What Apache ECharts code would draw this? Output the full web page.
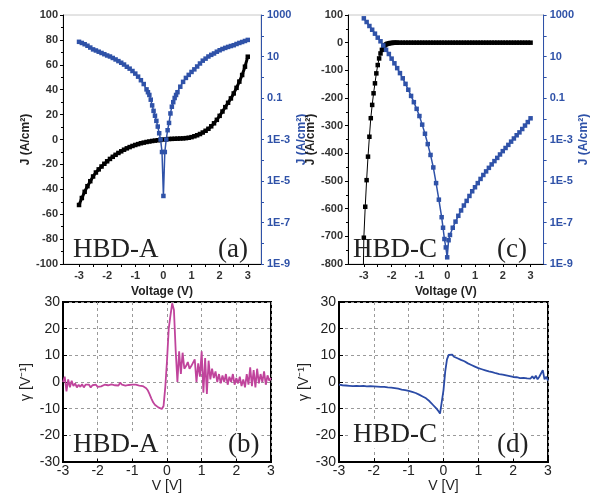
<!DOCTYPE html>
<html><head><meta charset="utf-8">
<script src="https://cdn.jsdelivr.net/npm/echarts@6/dist/echarts.min.js"></script>
<style>html,body{margin:0;padding:0;background:#fff}#c{width:591px;height:494px}</style>
</head><body><div id="c"></div><script>
// ---------- Panel (a): HBD-A J-V ----------
const voltA = [-3.0,-2.9,-2.8,-2.7,-2.6,-2.5,-2.4,-2.3,-2.2,-2.1,-2.0,-1.9,-1.8,-1.7,-1.6,-1.5,-1.4,-1.3,-1.2,-1.1,-1.0,-0.9,-0.8,-0.7,-0.6,-0.5,-0.4,-0.3,-0.2,-0.1,0.0,0.1,0.2,0.3,0.4,0.5,0.6,0.7,0.8,0.9,1.0,1.1,1.2,1.3,1.4,1.5,1.6,1.7,1.8,1.9,2.0,2.1,2.2,2.3,2.4,2.5,2.6,2.7,2.8,2.9,3.0];
const jLinA = [-52.6,-47,-42,-37.5,-33.5,-29.7,-26.5,-24,-21.7,-19.5,-17.5,-15.6,-13.9,-12.3,-10.8,-9.5,-8.2,-7.1,-6.1,-5.2,-4.4,-3.7,-3.0,-2.5,-2.0,-1.6,-1.2,-0.9,-0.6,-0.3,0,0.2,0.4,0.5,0.6,0.7,0.8,0.9,1.1,1.4,1.9,2.6,3.4,4.4,5.6,7.0,8.6,10.6,13.0,15.8,19,22.5,26,29.5,33,37,41.5,46.5,51.8,58.5,66.5];
const voltLogA = [-3.0,-2.9,-2.8,-2.7,-2.6,-2.5,-2.4,-2.3,-2.2,-2.1,-2.0,-1.9,-1.8,-1.7,-1.6,-1.5,-1.4,-1.3,-1.2,-1.1,-1.0,-0.9,-0.8,-0.7,-0.6,
  -0.55,-0.5,-0.45,-0.4,-0.35,-0.3,-0.25,-0.2,-0.15,-0.1,-0.05,0,0.05,0.1,0.15,0.2,0.25,0.3,0.35,0.4,0.45,
  0.5,0.6,0.7,0.8,0.9,1.0,1.1,1.2,1.3,1.4,1.5,1.6,1.7,1.8,1.9,2.0,2.1,2.2,2.3,2.4,2.5,2.6,2.7,2.8,2.9,3.0];
const jLogA = [51,45,39,33,27,22,19.5,17,14.8,12.9,11.2,10,8.5,7.2,6.0,5.0,4.1,3.2,2.6,2.0,1.5,1.07,0.72,0.47,0.26,
  0.19,0.14,0.083,0.044,0.024,0.014,0.0079,0.0042,0.002,0.001,2.5e-4,1.9e-6,2.5e-4,1e-3,2.8e-3,6.3e-3,0.018,0.038,0.063,0.1,0.14,
  0.19,0.35,0.6,0.93,1.3,1.8,2.4,3.3,4.6,6.3,7.9,10,12,14,17,20,23,26,29,32,35,40,45,50,56,63];

// ---------- Panel (c): HBD-C J-V ----------
const voltC = [-3.03,-3.0,-2.95,-2.9,-2.85,-2.8,-2.75,-2.7,-2.65,-2.6,-2.55,-2.5,-2.45,-2.4,-2.35,-2.3,-2.25,-2.2,-2.15,-2.1,-2.05,-2.0,-1.95,-1.9,-1.85,-1.8,
  -1.7,-1.6,-1.5,-1.4,-1.3,-1.2,-1.1,-1.0,-0.9,-0.8,-0.7,-0.6,-0.5,-0.4,-0.3,-0.2,-0.1,0.0,0.1,0.2,0.3,0.4,0.5,0.6,0.7,0.8,0.9,1.0,1.1,1.2,1.3,1.4,1.5,1.6,1.7,1.8,1.9,2.0,2.1,2.2,2.3,2.4,2.5,2.6,2.7,2.8,2.9,3.0];
const jLinC = [-900,-705,-593,-497,-412,-340,-273,-225,-183,-147,-111,-81,-57,-39,-26,-16,-10,-6.5,-4,-2.5,-1.5,-1,-0.5,-0.3,-0.1,0,
  0,0,0,0,0,0,0,0,0,0,0,0,0,0,0,0,0,0,0,0,0,0,0,0,0,0,0,0,0,0,0,0,0,0,0,0,0,0,0,0,0,0,0,0,0,0,0,0];
const voltLogC = [-3.0,-2.9,-2.8,-2.7,-2.6,-2.5,-2.4,-2.3,-2.2,-2.1,-2.0,-1.9,-1.8,-1.7,-1.6,-1.5,-1.4,-1.3,-1.2,-1.1,-1.0,-0.9,-0.8,-0.7,-0.6,-0.5,-0.4,-0.3,-0.2,
  -0.15,-0.1,-0.05,0,0.05,0.1,
  0.2,0.3,0.4,0.5,0.6,0.7,0.8,0.9,1.0,1.1,1.2,1.3,1.4,1.5,1.6,1.7,1.8,1.9,2.0,2.1,2.2,2.3,2.4,2.5,2.6,2.7,2.8,2.9,3.0];
const jLogC = [690,460,295,195,126,81,54,34,21,13.2,7.9,4.7,2.75,1.58,0.89,0.48,0.25,0.126,0.063,0.030,0.0135,5.2e-3,1.9e-3,6.0e-4,1.8e-4,4.5e-5,7.9e-6,1.26e-6,1.8e-7,
  5.6e-8,1.6e-8,6.3e-9,2.1e-9,1.4e-8,2.5e-8,
  5.6e-8,1.1e-7,2.1e-7,3.8e-7,6.6e-7,1.1e-6,1.9e-6,3.2e-6,5.0e-6,7.9e-6,1.26e-5,1.95e-5,2.9e-5,4.3e-5,6.3e-5,9.1e-5,1.3e-4,1.9e-4,2.75e-4,3.9e-4,5.5e-4,7.9e-4,1.12e-3,1.6e-3,2.2e-3,3.2e-3,4.7e-3,6.9e-3,1.05e-2];

// ---------- Panels (b), (d): gamma vs V ----------
const voltG = [-3.00,-2.95,-2.90,-2.85,-2.80,-2.75,-2.70,-2.65,-2.60,-2.55,
  -2.50,-2.45,-2.40,-2.35,-2.30,-2.25,-2.20,-2.15,-2.10,-2.05,
  -2.00,-1.95,-1.90,-1.85,-1.80,-1.75,-1.70,-1.65,-1.60,-1.55,
  -1.50,-1.45,-1.40,-1.35,-1.30,-1.25,-1.20,-1.15,-1.10,-1.05,
  -1.00,-0.95,-0.90,-0.85,-0.80,-0.75,-0.70,-0.65,-0.60,-0.55,
  -0.50,-0.45,-0.40,-0.35,-0.30,-0.25,-0.20,-0.15,-0.10,-0.05,
  0.00,0.05,0.10,0.15,0.20,0.25,0.30,0.35,0.40,0.45,
  0.50,0.55,0.60,0.65,0.70,0.75,0.80,0.85,0.90,0.95,
  1.00,1.05,1.10,1.15,1.20,1.25,1.30,1.35,1.40,1.45,
  1.50,1.55,1.60,1.65,1.70,1.75,1.80,1.85,1.90,1.95,
  2.00,2.05,2.10,2.15,2.20,2.25,2.30,2.35,2.40,2.45,
  2.50,2.55,2.60,2.65,2.70,2.75,2.80,2.85,2.90,2.95,
  3.00];
const gammaB = [0,2,-3.5,1,-2,0.5,-1.5,-0.5,-2,-1,
  -1.8,-0.8,-2,-1,-1.6,-1,-2,-1.2,-1.7,-1,
  -1.8,-1.2,-1.6,-1.9,-1,-1.7,-1.2,-1.5,-0.9,-1.4,
  -1.2,-0.6,-1.3,-0.2,-1,-0.8,-1.3,-0.8,-1.1,-0.7,
  -1,-0.8,-1,-1.1,-1.3,-1.2,-1.5,-1.8,-2.3,-3.2,
  -4.6,-6.2,-7.6,-8.5,-9.1,-9.5,-9.8,-10.1,-9,-2,
  8,20,25,29.5,27,12,0,11.5,3,11,
  5,6,7.5,5,6,5.5,8.5,0,7,2,
  11.5,-4,9,-4.5,8,1,5,1.5,4,0,
  3,-0.5,2.5,0,3,-1,2,0,3,-1,
  1.5,-0.5,2,-1.5,1,-2,3,-1,5.5,-1.5,
  4.5,-2,5,-0.5,3,0,4,-1,2.5,0.5,
  1.5];
const gammaD = [-1.0,-1.4,-1.2,-1.6,-1.3,-1.8,-1.4,-1.7,-1.5,-2.0,
  -1.4,-1.8,-1.5,-1.9,-1.4,-1.8,-1.6,-2.0,-1.5,-1.9,
  -1.6,-1.9,-1.7,-2.1,-1.8,-2.0,-1.8,-2.3,-2.0,-2.3,
  -2.1,-2.5,-2.3,-2.7,-2.5,-2.9,-2.8,-3.1,-3.0,-3.4,
  -3.3,-3.6,-3.7,-4.0,-4.1,-4.5,-4.7,-5.1,-5.4,-5.8,
  -6.1,-6.7,-7.2,-7.9,-8.6,-9.3,-10.0,-10.8,-11.8,-11.5,
  -3,4,8.5,10.2,9.6,10.3,9.5,9.8,8.9,9.2,
  8.3,8.6,7.8,7.6,7.0,7.2,6.4,6.6,5.8,6.0,
  5.2,5.5,4.8,5.0,4.4,4.6,4.0,4.3,3.7,3.9,
  3.3,3.6,3.0,3.3,2.8,3.0,2.5,2.8,2.2,2.5,
  1.9,2.3,1.8,2.1,1.5,2.0,1.6,2.2,1.4,2.0,
  1.3,2.2,1.2,2.4,1.0,2.0,1.5,4.5,1.0,2.0,
  0.5];

// ---------- tick labels ----------
const xTicksTop = [-3,-2,-1,0,1,2,3];
const logTicks = [1e-9,1e-8,1e-7,1e-6,1e-5,1e-4,1e-3,1e-2,1e-1,1,10,100,1000];
const logLabelMap = {'-9':'1E-9','-7':'1E-7','-5':'1E-5','-3':'1E-3','-1':'0.1','1':'10','3':'1000'};

const BLUE = '#2f52a8';
const zip = (xs, ys) => xs.map((x, i) => [x, ys[i]]);
const FONT = '"Liberation Sans", Arial, sans-serif';

function topX(grid, nameGap) {
  return {
    type: 'value', gridIndex: grid, min: -3.57, max: 3.47,
    name: 'Voltage (V)', nameLocation: 'middle', nameGap: nameGap,
    nameTextStyle: {fontFamily: FONT, fontWeight: 'bold', fontSize: 12, color: '#222'},
    axisLine: {onZero: false, lineStyle: {color: '#000', width: 1}},
    axisTick: {customValues: [-3,-2.5,-2,-1.5,-1,-0.5,0,0.5,1,1.5,2,2.5,3], length: 3, lineStyle: {color: '#000'}},
    axisLabel: {customValues: xTicksTop, fontFamily: FONT, fontWeight: 'bold', fontSize: 11, color: '#333', margin: 6},
    splitLine: {show: false}
  };
}
function topLog(grid, nameGap) {
  return {
    type: 'log', logBase: 10, gridIndex: grid, position: 'right', min: 1e-9, max: 1e3,
    name: 'J (A/cm²)', nameLocation: 'middle', nameRotate: 90, nameGap: nameGap,
    nameTextStyle: {fontFamily: FONT, fontWeight: 'bold', fontSize: 12, color: BLUE},
    axisLine: {show: true, onZero: false, lineStyle: {color: BLUE, width: 1}},
    axisTick: {show: true, customValues: logTicks, length: 3, lineStyle: {color: BLUE}},
    axisLabel: {customValues: [1e-9,1e-7,1e-5,1e-3,1e-1,10,1000], fontFamily: FONT, fontWeight: 'bold', fontSize: 11, color: BLUE, margin: 6,
      formatter: v => { const e = Math.round(Math.log10(v)); return logLabelMap[String(e)] || ''; }},
    splitLine: {show: false}
  };
}
function topLin(grid, min, max, interval, nameGap) {
  return {
    type: 'value', gridIndex: grid, position: 'left', min: min, max: max, interval: interval,
    name: 'J (A/cm²)', nameLocation: 'middle', nameRotate: 90, nameGap: nameGap,
    nameTextStyle: {fontFamily: FONT, fontWeight: 'bold', fontSize: 12, color: '#222'},
    axisLine: {show: true, onZero: false, lineStyle: {color: '#000', width: 1}},
    axisTick: {show: true, length: 3, lineStyle: {color: '#000'}},
    minorTick: {show: true, splitNumber: 2, length: 2, lineStyle: {color: '#000'}},
    axisLabel: {fontFamily: FONT, fontWeight: 'bold', fontSize: 11, color: '#333', margin: 5},
    splitLine: {show: false}
  };
}
function botX(grid) {
  return {
    type: 'value', gridIndex: grid, min: -3, max: 3, interval: 1,
    name: 'V [V]', nameLocation: 'middle', nameGap: 13,
    nameTextStyle: {fontFamily: FONT, fontSize: 14, color: '#222'},
    axisLine: {onZero: false, lineStyle: {color: '#000', width: 2}},
    axisTick: {inside: true, length: 4, lineStyle: {color: '#000'}},
    axisLabel: {fontFamily: FONT, fontSize: 14, color: '#222', margin: 2},
    splitLine: {show: true, lineStyle: {color: '#9a9a9a', type: [3, 3], width: 1}}
  };
}
function botY(grid, nameGap) {
  return {
    type: 'value', gridIndex: grid, min: -30, max: 30, interval: 10,
    name: 'γ [V⁻¹]', nameLocation: 'middle', nameRotate: 90, nameGap: nameGap,
    nameTextStyle: {fontFamily: FONT, fontSize: 14, color: '#222'},
    axisLine: {show: true, onZero: false, lineStyle: {color: '#000', width: 2}},
    axisTick: {show: true, inside: true, length: 4, lineStyle: {color: '#000'}},
    axisLabel: {fontFamily: FONT, fontSize: 14, color: '#222', margin: 3},
    splitLine: {show: true, lineStyle: {color: '#9a9a9a', type: [3, 3], width: 1}}
  };
}
function label(x, y, text, bg) {
  return {type: 'text', x: x, y: y, z: 100,
    style: {text: text, font: '27px "Liberation Serif", "Times New Roman", serif', fill: '#222',
      align: 'left', verticalAlign: 'middle', backgroundColor: bg ? '#fff' : null, padding: bg ? [0, 2, 0, 2] : 0}};
}

const chart = echarts.init(document.getElementById('c'), null, {renderer: 'canvas'});
chart.setOption({
  animation: false,
  backgroundColor: '#fff',
  grid: [
    {left: 63, top: 15, width: 198, height: 249, show: true, borderColor: '#c8c8c8', borderWidth: 1, backgroundColor: 'transparent'},
    {left: 348, top: 15, width: 199, height: 249, show: true, borderColor: '#c8c8c8', borderWidth: 1, backgroundColor: 'transparent'},
    {left: 63, top: 302, width: 208, height: 162, show: true, borderColor: '#000', borderWidth: 2, backgroundColor: 'transparent'},
    {left: 339, top: 302, width: 209, height: 161, show: true, borderColor: '#000', borderWidth: 2, backgroundColor: 'transparent'}
  ],
  xAxis: [topX(0, 17), topX(1, 22), botX(2), botX(3)],
  yAxis: [
    topLin(0, -100, 100, 20, 28), topLog(0, 29),
    topLin(1, -800, 100, 100, 26), topLog(1, 31),
    botY(2, 30), botY(3, 28)
  ],
  series: [
    {type: 'line', xAxisIndex: 0, yAxisIndex: 0, data: zip(voltA, jLinA), symbol: 'rect', symbolSize: 4.5,
      itemStyle: {color: '#000'}, lineStyle: {color: '#000', width: 3}},
    {type: 'line', xAxisIndex: 0, yAxisIndex: 1, data: zip(voltLogA, jLogA), symbol: 'rect', symbolSize: 4.5,
      itemStyle: {color: BLUE}, lineStyle: {color: BLUE, width: 1.5}},
    {type: 'line', xAxisIndex: 1, yAxisIndex: 2, data: zip(voltC, jLinC), symbol: 'rect', symbolSize: 4.5,
      itemStyle: {color: '#000'}, lineStyle: {color: '#000', width: 1}},
    {type: 'line', xAxisIndex: 1, yAxisIndex: 3, data: zip(voltLogC, jLogC), symbol: 'rect', symbolSize: 4.5,
      itemStyle: {color: BLUE}, lineStyle: {color: BLUE, width: 1.5}},
    {type: 'line', xAxisIndex: 2, yAxisIndex: 4, data: zip(voltG, gammaB), showSymbol: false, symbol: 'none',
      lineStyle: {color: '#c0449c', width: 1.8}},
    {type: 'line', xAxisIndex: 3, yAxisIndex: 5, data: zip(voltG, gammaD), showSymbol: false, symbol: 'none',
      lineStyle: {color: '#2b4ba6', width: 1.8}}
  ],
  graphic: [
    label(73, 250, 'HBD-A', false), label(218, 250, '(a)', false),
    label(353, 250, 'HBD-C', false), label(497, 250, '(c)', false),
    label(71, 445, 'HBD-A', true), label(226, 445, '(b)', true),
    label(351, 435, 'HBD-C', true), label(495, 445, '(d)', true)
  ]
});
</script></body></html>
